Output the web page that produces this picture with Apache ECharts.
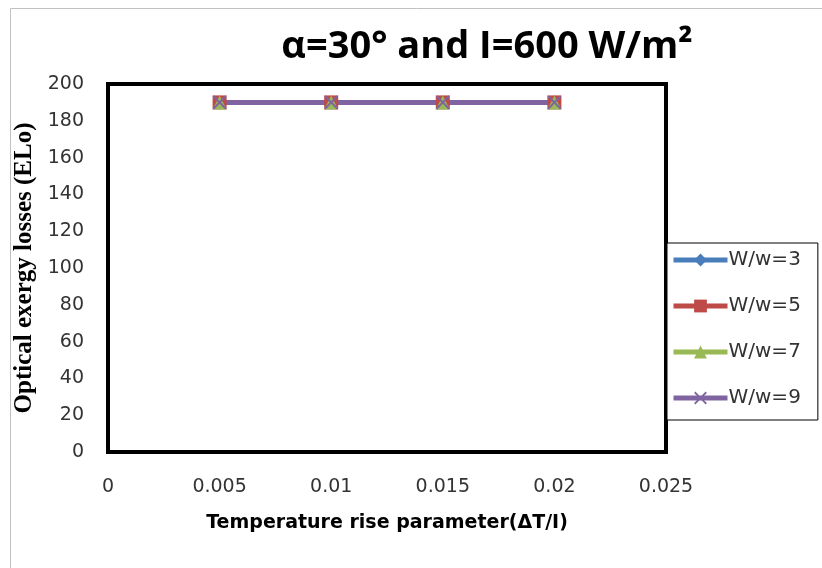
<!DOCTYPE html>
<html>
<head>
<meta charset="utf-8">
<script src="https://cdn.jsdelivr.net/npm/echarts@6/dist/echarts.min.js"></script>
<style>
html, body { margin: 0; padding: 0; background: #fff; }
#main { width: 822px; height: 568px; }
</style>
</head>
<body>
<div id="main"></div>
<script>
// data
var xValues = [0.005, 0.01, 0.015, 0.02];
var ww3 = [190, 190, 190, 190];
var ww5 = [190, 190, 190, 190];
var ww7 = [190, 190, 190, 190];
var ww9 = [190, 190, 190, 190];
var seriesNames = ['W/w=3', 'W/w=5', 'W/w=7', 'W/w=9'];

var crossPath = 'path://M0,1L1,0L5,4L9,0L10,1L6,5L10,9L9,10L5,6L1,10L0,9L4,5Z';

function pairs(ys) {
    var out = [];
    for (var i = 0; i < xValues.length; i++) {
        out.push([xValues[i], ys[i]]);
    }
    return out;
}

function makeSeries(name, ys, color, symbol, size) {
    return {
        name: name,
        type: 'line',
        data: pairs(ys),
        symbol: symbol,
        symbolSize: size,
        showSymbol: true,
        lineStyle: { color: color, width: 5 },
        itemStyle: { color: color },
        emphasis: { disabled: true },
        animation: false
    };
}

var chart = echarts.init(document.getElementById('main'));
var option = {
    animation: false,
    title: {
        text: 'α=30° and I=600 W/m²',
        left: 482,
        top: 23,
        textAlign: 'center',
        textStyle: {
            fontFamily: 'Open Sans, sans-serif',
            fontWeight: 'bold',
            fontSize: 38,
            color: '#000'
        }
    },
    graphic: [{
        type: 'rect',
        shape: { x: 10.5, y: 8.5, width: 830, height: 580 },
        style: { fill: 'none', stroke: '#c0c0c0', lineWidth: 1 },
        silent: true
    }],
    legend: {
        orient: 'vertical',
        left: 667,
        top: 243,
        padding: [7, 17, 12, 4],
        itemGap: 26,
        itemWidth: 54,
        itemHeight: 16,
        borderColor: '#000',
        borderWidth: 1,
        backgroundColor: '#fff',
        lineStyle: { width: 5 },
        textStyle: {
            fontFamily: 'DejaVu Sans, sans-serif',
            fontSize: 20,
            color: '#333',
            padding: [0, 0, 0, -4]
        },
        data: seriesNames
    },
    grid: {
        left: 108,
        right: 156,
        top: 84,
        bottom: 116,
        show: true,
        borderColor: '#000',
        borderWidth: 4,
        backgroundColor: '#fff'
    },
    xAxis: {
        type: 'value',
        min: 0,
        max: 0.025,
        interval: 0.005,
        name: 'Temperature rise parameter(ΔT/I)',
        nameLocation: 'middle',
        nameGap: 62,
        nameTextStyle: {
            fontFamily: 'DejaVu Sans, sans-serif',
            fontWeight: 'bold',
            fontSize: 19,
            color: '#000'
        },
        axisLine: { show: false },
        axisTick: { show: false },
        splitLine: { show: false },
        axisLabel: {
            margin: 26,
            fontFamily: 'DejaVu Sans, sans-serif',
            fontSize: 19,
            color: '#333'
        }
    },
    yAxis: {
        type: 'value',
        min: 0,
        max: 200,
        interval: 20,
        name: 'Optical exergy losses (ELo)',
        nameLocation: 'middle',
        nameGap: 60,
        nameTextStyle: {
            fontFamily: 'Liberation Serif, serif',
            fontWeight: 'bold',
            fontSize: 25,
            color: '#000'
        },
        axisLine: { show: false },
        axisTick: { show: false },
        splitLine: { show: false },
        axisLabel: {
            margin: 24,
            fontFamily: 'DejaVu Sans, sans-serif',
            fontSize: 19,
            color: '#333'
        }
    },
    series: [
        makeSeries(seriesNames[0], ww3, '#4a7ebb', 'diamond', 14),
        makeSeries(seriesNames[1], ww5, '#be4b48', 'rect', 14),
        makeSeries(seriesNames[2], ww7, '#98b954', 'triangle', 14),
        makeSeries(seriesNames[3], ww9, '#8064a2', crossPath, 14)
    ]
};
chart.setOption(option);
</script>
</body>
</html>
